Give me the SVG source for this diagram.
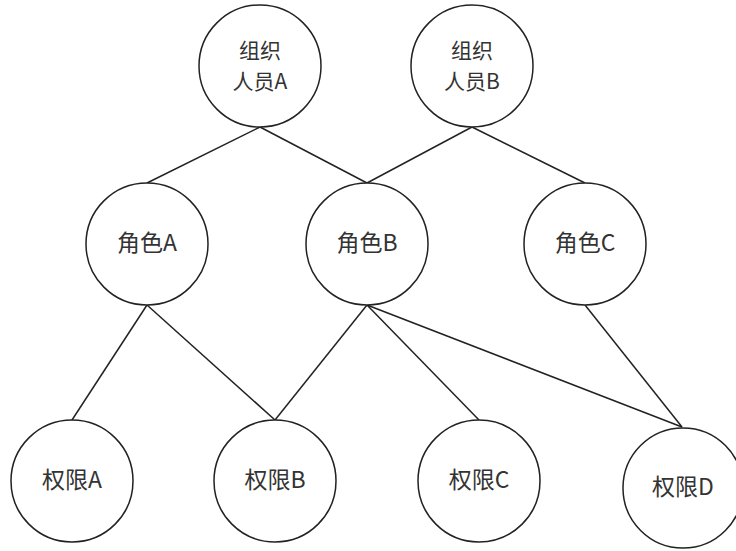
<svg xmlns="http://www.w3.org/2000/svg" width="736" height="551" viewBox="0 0 736 551">
<style>
.node circle{fill:#fff;stroke:#222;stroke-width:1.5}
.node text{font-family:"Noto Sans CJK SC","Noto Sans",sans-serif;font-size:23px;fill:#333;text-anchor:middle}
.node text.two{font-size:21px}
.edges line{stroke:#222;stroke-width:1.5}
</style>
<rect width="736" height="551" fill="#fff"/>
<g class="edges">
<line x1="260" y1="127" x2="147" y2="183"/>
<line x1="260" y1="127" x2="367" y2="183"/>
<line x1="472" y1="127" x2="367" y2="183"/>
<line x1="472" y1="127" x2="585" y2="183"/>
<line x1="147" y1="305" x2="72" y2="420"/>
<line x1="147" y1="305" x2="275" y2="420"/>
<line x1="367" y1="305" x2="275" y2="420"/>
<line x1="367" y1="305" x2="479" y2="420"/>
<line x1="367" y1="305" x2="682" y2="427"/>
<line x1="585" y1="305" x2="682" y2="427"/>
</g>
<g id="org-a" class="node"><circle cx="260" cy="66" r="61"/><text class="two" x="260" y="58">组织</text><text class="two" x="260" y="89">人员A</text></g>
<g id="org-b" class="node"><circle cx="472" cy="66" r="61"/><text class="two" x="472" y="58">组织</text><text class="two" x="472" y="89">人员B</text></g>
<g id="role-a" class="node"><circle cx="147" cy="244" r="61"/><text x="147" y="251">角色A</text></g>
<g id="role-b" class="node"><circle cx="367" cy="244" r="61"/><text x="367" y="251">角色B</text></g>
<g id="role-c" class="node"><circle cx="585" cy="244" r="61"/><text x="585" y="251">角色C</text></g>
<g id="perm-a" class="node"><circle cx="72" cy="481" r="61"/><text x="72" y="488">权限A</text></g>
<g id="perm-b" class="node"><circle cx="275" cy="481" r="61"/><text x="275" y="488">权限B</text></g>
<g id="perm-c" class="node"><circle cx="479" cy="481" r="61"/><text x="479" y="488">权限C</text></g>
<g id="perm-d" class="node"><circle cx="683" cy="488" r="60"/><text x="683" y="495">权限D</text></g>
</svg>
